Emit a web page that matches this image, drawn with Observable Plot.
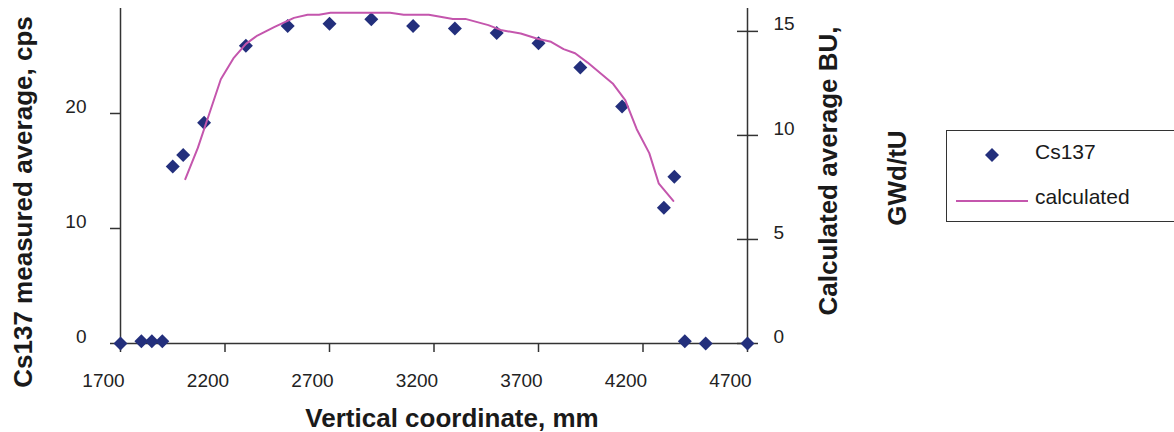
<!DOCTYPE html>
<html><head><meta charset="utf-8">
<script src="https://cdn.jsdelivr.net/npm/d3@7"></script>
<script src="https://cdn.jsdelivr.net/npm/@observablehq/plot@0.6"></script>
<style>
body{margin:0;background:#fff;font-family:"Liberation Sans",Arial,sans-serif;}
#wrap{position:relative;width:1174px;height:432px;overflow:hidden;}
#legend{position:absolute;left:946px;top:130px;width:260px;height:92px;border:1.5px solid #333;box-sizing:border-box;}
.lt{position:absolute;font-size:21px;color:#1a1a1a;line-height:1;white-space:nowrap;}
.ls{position:absolute;}
</style></head><body><div id="wrap"></div>
<script>
const xTicks = [1700, 2200, 2700, 3200, 3700, 4200, 4700];
const leftTicks = [0, 10, 20];
const rightTicks = [0, 5, 10, 15];

// Cs137 measured average, cps (left axis)
const csX = [1700, 1800, 1850, 1900, 1950, 2000, 2100, 2300, 2500, 2700, 2900, 3100, 3300, 3500, 3700, 3900, 4100, 4300, 4350, 4400, 4500, 4700];
const csY = [0, 0.2, 0.2, 0.2, 15.4, 16.4, 19.2, 25.9, 27.6, 27.8, 28.2, 27.6, 27.4, 27.0, 26.1, 24.0, 20.6, 11.8, 14.5, 0.2, 0, 0];

// calculated average BU, GWd/tU (right axis)
const calcX = [2010, 2070, 2130, 2180, 2240, 2300, 2355, 2435, 2530, 2595, 2650, 2705, 2990, 3055, 3175, 3230, 3290, 3350, 3460, 3525, 3615, 3695, 3760, 3820, 3875, 3935, 4055, 4115, 4170, 4230, 4275, 4345];
const calcY = [7.9, 9.4, 11.2, 12.7, 13.7, 14.4, 14.8, 15.2, 15.65, 15.8, 15.8, 15.9, 15.9, 15.8, 15.8, 15.7, 15.6, 15.6, 15.3, 15.05, 14.9, 14.65, 14.5, 14.15, 13.95, 13.5, 12.5, 11.7, 10.3, 9.15, 7.7, 6.85];

const leftMax = 29.13, rightMax = 16.1, k = leftMax / rightMax;
const cs = csX.map((x, i) => ({x, y: csY[i]}));
const calc = calcX.map((x, i) => ({x, y: calcY[i] * k}));

const navy = "#232f7c", pink = "#c456ad", axisC = "#333";
const font = "Liberation Sans, Arial, sans-serif";

const chart = Plot.plot({
  width: 1174, height: 432,
  marginLeft: 120, marginRight: 427, marginTop: 8, marginBottom: 89,
  style: {fontFamily: font, background: "white", color: "#222", overflow: "visible"},
  x: {domain: [xTicks[0], xTicks[xTicks.length - 1]]},
  y: {domain: [0, leftMax]},
  marks: [
    // axis lines
    Plot.ruleX([xTicks[0], xTicks[xTicks.length - 1]], {stroke: axisC, strokeWidth: 1.5}),
    Plot.ruleY([0], {stroke: axisC, strokeWidth: 1.5}),
    // x axis
    Plot.axisX({ticks: xTicks, tickSize: 9, fill: "none", stroke: axisC, strokeWidth: 1.5, label: null}),
    Plot.axisX({ticks: xTicks, tickSize: 0, tickPadding: 30, dx: -17, fontSize: 19, label: null, tickFormat: d => String(d)}),
    // left axis
    Plot.axisY({anchor: "left", ticks: leftTicks, tickSize: 10, fill: "none", stroke: axisC, strokeWidth: 1.5, label: null}),
    Plot.axisY({anchor: "left", ticks: leftTicks, tickSize: 0, tickPadding: 34, dy: -7, fontSize: 19, label: null, tickFormat: d => String(d)}),
    // right axis
    Plot.axisY({anchor: "right", ticks: rightTicks.map(v => v * k), tickSize: 21, dx: -11, fill: "none", stroke: axisC, strokeWidth: 1.5, label: null}),
    Plot.axisY({anchor: "right", ticks: rightTicks.map(v => v * k), tickSize: 0, tickPadding: 26, dy: -7, fontSize: 19, label: null, tickFormat: d => String(Math.round(d / k))}),
    // data
    Plot.dot(cs, {x: "x", y: "y", symbol: "diamond2", r: 6.3, fill: navy, stroke: "none"}),
    Plot.line(calc, {x: "x", y: "y", stroke: pink, strokeWidth: 2}),
    // titles
    Plot.text(["Vertical coordinate, mm"], {frameAnchor: "bottom", textAnchor: "middle", lineAnchor: "middle", dx: 18, dy: 75, fontSize: 26, fontWeight: "bold", fill: "#1a1a1a"}),
    Plot.text(["Cs137 measured average, cps"], {frameAnchor: "left", textAnchor: "middle", lineAnchor: "middle", rotate: -90, dx: -97, dy: 26, fontSize: 26, fontWeight: "bold", fill: "#1a1a1a"}),
    Plot.text(["Calculated average BU,"], {frameAnchor: "right", textAnchor: "middle", lineAnchor: "middle", rotate: -90, dx: 81, dy: -5, fontSize: 26, fontWeight: "bold", fill: "#1a1a1a"}),
    Plot.text(["GWd/tU"], {frameAnchor: "right", textAnchor: "middle", lineAnchor: "middle", rotate: -90, dx: 150, dy: 2, fontSize: 26, fontWeight: "bold", fill: "#1a1a1a"})
  ]
});
const wrap = document.getElementById("wrap");
wrap.appendChild(chart);

// legend
const legend = document.createElement("div");
legend.id = "legend";
wrap.appendChild(legend);
const series = [
  {name: "Cs137", kind: "dot"},
  {name: "calculated", kind: "line"}
];
series.forEach((s, i) => {
  const sw = document.createElementNS("http://www.w3.org/2000/svg", "svg");
  sw.setAttribute("class", "ls");
  sw.setAttribute("width", 80); sw.setAttribute("height", 20);
  sw.style.left = (i === 0 ? 1 : 1) * 8 + "px";
  sw.style.top = (i === 0 ? 14 : 60) + "px";
  if (s.kind === "dot") {
    sw.innerHTML = `<path d="M37,3 L44,10 L37,17 L30,10 Z" fill="${navy}"/>`;
  } else {
    sw.innerHTML = `<line x1="1" x2="73" y1="10" y2="10" stroke="${pink}" stroke-width="2"/>`;
  }
  legend.appendChild(sw);
  const t = document.createElement("div");
  t.className = "lt";
  t.textContent = s.name;
  t.style.left = "88px";
  t.style.top = (i === 0 ? 10 : 55) + "px";
  legend.appendChild(t);
});
</script>
</body></html>
